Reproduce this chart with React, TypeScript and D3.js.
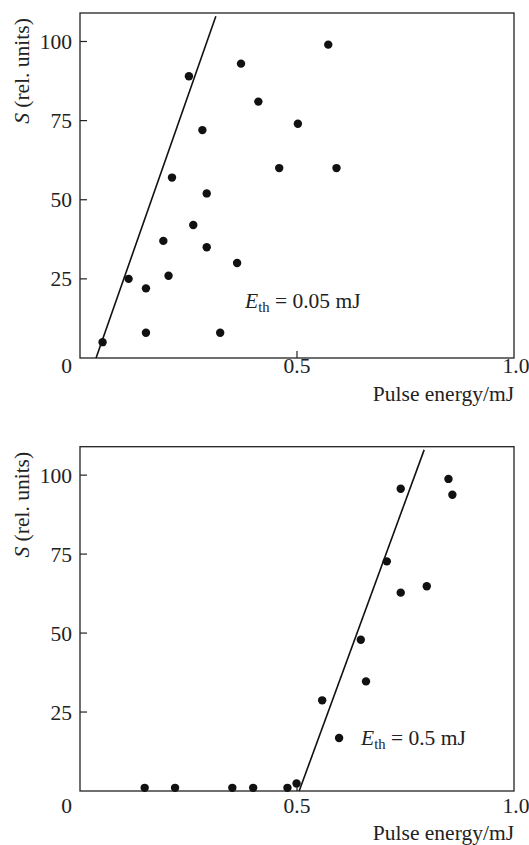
import React from "react";
import * as d3 from "d3";

const topEnergy = [0.052, 0.112, 0.152, 0.152, 0.192, 0.204, 0.212, 0.251, 0.261, 0.282, 0.292, 0.292, 0.323, 0.362, 0.371, 0.411, 0.459, 0.572, 0.502, 0.591];
const topSignal = [5, 25, 22, 8, 37, 26, 57, 89, 42, 72, 52, 35, 8, 30, 93, 81, 60, 99, 74, 60];
const topFitEnergy = [0.037, 0.313];
const topFitSignal = [0, 108];

const bottomEnergy = [0.149, 0.219, 0.351, 0.399, 0.478, 0.499, 0.558, 0.597, 0.647, 0.659, 0.707, 0.739, 0.739, 0.799, 0.849, 0.858];
const bottomSignal = [1, 1, 1, 1, 1, 2.4, 28.7, 16.8, 47.9, 34.7, 72.7, 62.8, 95.7, 64.8, 98.8, 93.8];
const bottomFitEnergy = [0.505, 0.793];
const bottomFitSignal = [0, 108];

const yTicks = [25, 50, 75, 100];
const xTicks = [0.5];
const xTickLabels = ["0.5", "1.0"];
const xTickLabelValues = [0.5, 1.0];
const thresholdLabels = ["0.05", "0.5"];

const FONT = "Liberation Serif";
const FS = 21.5;
const txt = { fontFamily: FONT, fontSize: FS, fill: "#222" };

type PanelProps = {
  top: number;
  bottom: number;
  energy: number[];
  signal: number[];
  fitE: number[];
  fitS: number[];
  tickBaseline: number;
  titleBaseline: number;
  eth: string;
  ethX: number;
  ethY: number;
};

function Panel(p: PanelProps) {
  const left = 80;
  const right = 514;
  const x = d3.scaleLinear().domain([0, 1]).range([left, right]);
  const y = d3.scaleLinear().domain([0, 109]).range([p.bottom, p.top]);
  const line = d3
    .line<number>()
    .x((d) => x(p.fitE[d]))
    .y((d) => y(p.fitS[d]));
  return (
    <g>
      <rect x={left} y={p.top} width={right - left} height={p.bottom - p.top} fill="none" stroke="#222" strokeWidth={1.3} />
      {yTicks.map((t) => (
        <g key={t}>
          <line x1={left} x2={left + 7} y1={y(t)} y2={y(t)} stroke="#222" strokeWidth={1.2} />
          <text x={72} y={y(t)} dy="0.35em" textAnchor="end" style={txt}>
            {t}
          </text>
        </g>
      ))}
      {xTicks.map((t) => (
        <line key={t} x1={x(t)} x2={x(t)} y1={p.bottom} y2={p.bottom - 7} stroke="#222" strokeWidth={1.2} />
      ))}
      <text x={72} y={p.tickBaseline} textAnchor="end" style={txt}>0</text>
      {xTickLabelValues.map((v, i) => (
        <text key={v} x={x(v) + (v === 1 ? 2 : 0)} y={p.tickBaseline} textAnchor="middle" style={txt}>
          {xTickLabels[i]}
        </text>
      ))}
      <text x={right} y={p.titleBaseline} textAnchor="end" style={txt}>
        Pulse energy/mJ
      </text>
      <text transform={`translate(29, ${p.top + 58}) rotate(-90)`} textAnchor="middle" style={txt}>
        <tspan fontStyle="italic">S</tspan> (rel. units)
      </text>
      <path d={line([0, 1]) || ""} fill="none" stroke="#111" strokeWidth={1.6} />
      {p.energy.map((e, i) => (
        <circle key={i} cx={x(e)} cy={y(p.signal[i])} r={4.2} fill="#111" />
      ))}
      <text x={p.ethX} y={p.ethY} style={txt}>
        <tspan fontStyle="italic">E</tspan>
        <tspan fontSize={FS * 0.68} dy={4}>th</tspan>
        <tspan dy={-4}> = {p.eth} mJ</tspan>
      </text>
    </g>
  );
}

export default function App() {
  return (
    <svg width={529} height={845} style={{ position: "absolute", left: 0, top: 0, background: "#fff" }}>
      <rect width={529} height={845} fill="#fff" />
      <Panel
        top={13}
        bottom={358}
        energy={topEnergy}
        signal={topSignal}
        fitE={topFitEnergy}
        fitS={topFitSignal}
        tickBaseline={373}
        titleBaseline={401}
        eth={thresholdLabels[0]}
        ethX={245}
        ethY={308}
      />
      <Panel
        top={446.7}
        bottom={791}
        energy={bottomEnergy}
        signal={bottomSignal}
        fitE={bottomFitEnergy}
        fitS={bottomFitSignal}
        tickBaseline={813}
        titleBaseline={840}
        eth={thresholdLabels[1]}
        ethX={361}
        ethY={745}
      />
    </svg>
  );
}
